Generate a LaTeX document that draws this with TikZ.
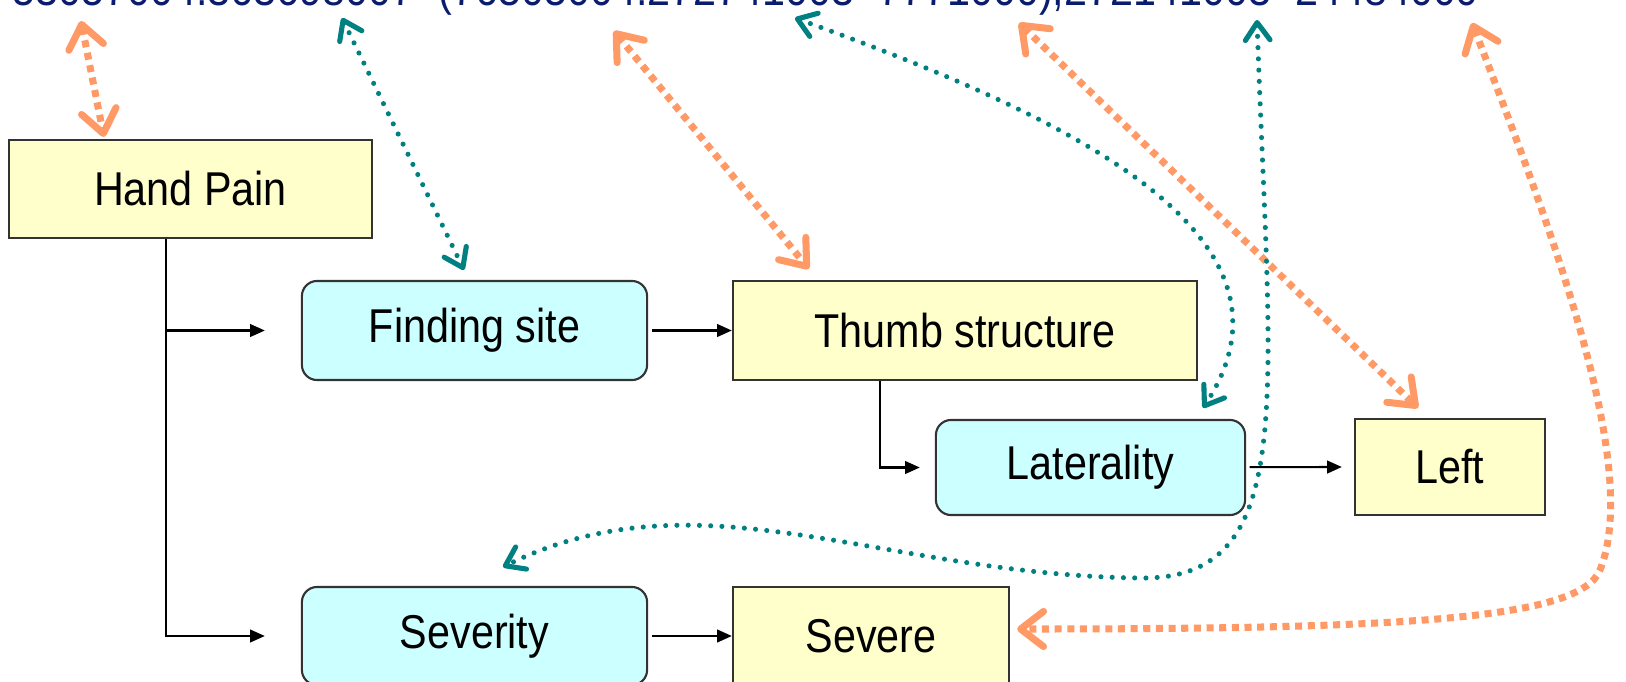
\documentclass[tikz,border=0pt]{standalone}
\usepackage{fontspec}
\setmainfont{Liberation Sans}[FakeStretch=0.87]
\usetikzlibrary{arrows.meta}
\definecolor{peach}{RGB}{255,153,102}
\definecolor{tealc}{RGB}{0,128,128}
\definecolor{navyc}{RGB}{10,28,110}
\definecolor{boxyellow}{RGB}{255,255,204}
\definecolor{boxcyan}{RGB}{204,255,255}
\tikzset{
  ob/.tip={Straight Barb[round,length=6.5pt,width=10pt]},
  tb/.tip={Straight Barb[round,length=5pt,width=7pt]}
}
\begin{document}
\begin{tikzpicture}[x=0.01cm, y=-0.01cm, >={Triangle[length=4.2pt,width=3.6pt]},
  every node/.style={font=\fontsize{13.5}{16}\selectfont},
  ybox/.style={draw=black!80, line width=.6pt, fill=boxyellow, inner sep=0pt},
  cbox/.style={ybox, fill=boxcyan, rounded corners=4.3pt},
  omap/.style={ob-ob, peach, line width=2pt, dash pattern=on 2pt off 1.6pt},
  tmap/.style={tb-tb, tealc, line width=1.45pt, line cap=round, dash pattern=on 0pt off 3.2pt}]
    \useasboundingbox (0,0) rectangle (1626,681);
    \clip (0,0) rectangle (1626,681);
    \node[anchor=base west, text=navyc, inner sep=0pt] (expr) at (12,5)
        {53057004:363698007=(76505004:272741003=7771000),272141003=24484000};
    \coordinate (k1) at (81,21);
    \coordinate (k2) at (342,18);
    \coordinate (k3) at (614,31);
    \coordinate (k4) at (795,18);
    \coordinate (k5) at (1019,23);
    \coordinate (k6) at (1257,20);
    \coordinate (k7) at (1472,23);

    \node[ybox, minimum width=3.63cm, minimum height=.98cm] (handpain) at (190.5,189) {Hand Pain};
    \node[cbox, minimum width=3.45cm, minimum height=.99cm] (finding) at (474.5,330.5) {Finding site};
    \node[ybox, minimum width=4.64cm, minimum height=.99cm] (thumb) at (965,330.5) {Thumb structure};
    \node[cbox, minimum width=3.09cm, minimum height=.95cm] (lateral) at (1090.5,467.5) {Laterality};
    \node[ybox, minimum width=1.9cm, minimum height=.96cm] (left) at (1450,467) {Left};
    \node[cbox, minimum width=3.45cm, minimum height=.98cm] (severity) at (474.5,636) {Severity};
    \node[ybox, minimum width=2.76cm, minimum height=.98cm] (severe) at (871,636) {Severe};

    \draw[->, line width=.6pt] (handpain.south -| 166,0) -- (severity.west -| 166,0) -- ([xshift=-3.6mm]severity.west);
    \draw[->, line width=.6pt] (finding.west -| 166,0) -- ([xshift=-3.6mm]finding.west);
    \draw[->, line width=.6pt, shorten <=1pt] (finding) -- (thumb);
    \draw[->, line width=.6pt] (thumb.south -| 880,0) |- ([xshift=-1.5mm]lateral.west);
    \draw[->, line width=.6pt, shorten <=1pt] (lateral) -- ([xshift=-1.2mm]left.west);
    \draw[->, line width=.6pt, shorten <=1pt] (severity) -- (severe);

    \draw[omap] (k1) -- ([xshift=-.865cm,yshift=.02cm]handpain.north);
    \draw[tmap] (k2) -- ([xshift=-.105cm,yshift=.1cm]finding.north);
    \draw[omap] (k3) -- ([xshift=-1.56cm,yshift=.11cm]thumb.north);
    \draw[tmap] (k4) .. controls (1050,110) and (1320,230) .. ([xshift=1.125cm,yshift=.11cm]lateral.north);
    \draw[omap] (k5) -- ([xshift=-.32cm,yshift=.1cm]left.north);
    \draw[tmap] (k6) .. controls (1270,400) and (1300,580) .. (1140,578)
        .. controls (880,575) and (700,470) .. ([xshift=.285cm,yshift=.19cm]severity.north);
    \draw[omap] (k7) .. controls (1560,250) and (1640,470) .. (1600,570)
        .. controls (1580,620) and (1400,629) .. ([xshift=.07cm,yshift=.07cm]severe.east);
\end{tikzpicture}
\end{document}
